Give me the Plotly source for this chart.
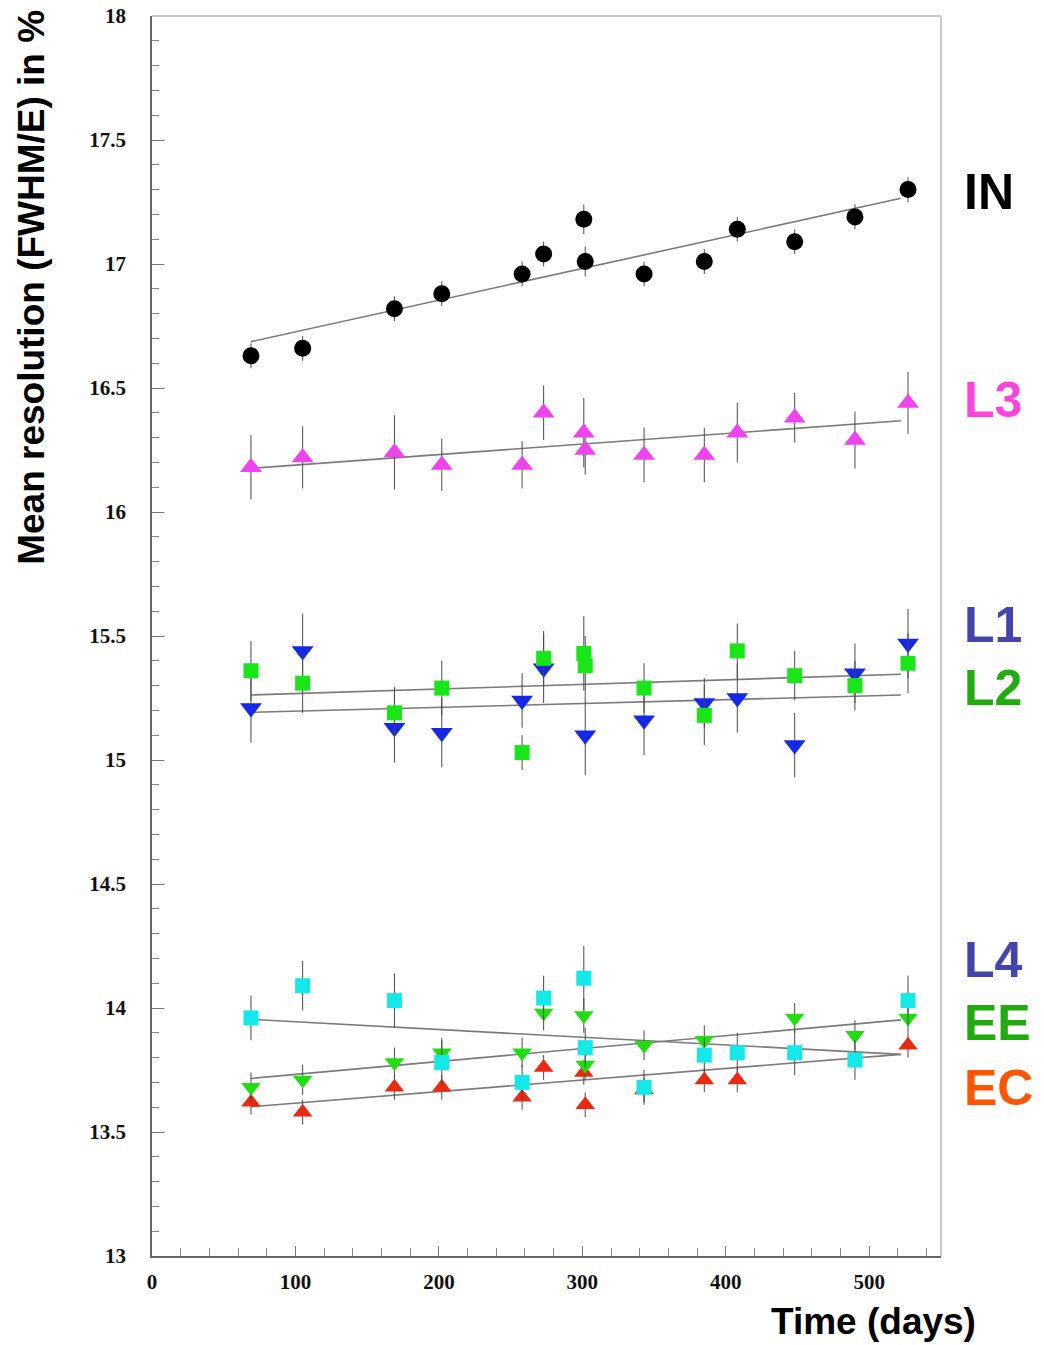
import plotly.graph_objects as go

# Measurement days (two runs close to day 300)
days = [69, 105, 169, 202, 258, 273, 301, 302, 343, 385, 408, 448, 490, 527]

# Mean resolution (FWHM/E, %) per detector region (None = no point shown)
res_IN = [16.63, 16.66, 16.82, 16.88, 16.96, 17.04, 17.18, 17.01, 16.96, 17.01, 17.14, 17.09, 17.19, 17.30]
err_IN = [0.05, 0.05, 0.05, 0.05, 0.05, 0.05, 0.06, 0.06, 0.05, 0.05, 0.05, 0.05, 0.05, 0.05]

res_L3 = [16.18, 16.22, 16.24, 16.19, 16.19, 16.40, 16.32, 16.25, 16.23, 16.23, 16.32, 16.38, 16.29, 16.44]
err_L3 = [0.13, 0.125, 0.15, 0.105, 0.095, 0.11, 0.14, 0.10, 0.11, 0.11, 0.12, 0.10, 0.115, 0.125]

res_L1 = [15.21, 15.44, 15.13, 15.11, 15.24, 15.37, None, 15.10, 15.16, 15.23, 15.25, 15.06, 15.35, 15.47]
err_L1 = [0.14, 0.15, 0.14, 0.14, 0.11, 0.14, 0.15, 0.16, 0.14, 0.10, 0.14, 0.13, 0.12, 0.14]

res_L2 = [15.36, 15.31, 15.19, 15.29, 15.03, 15.41, 15.43, 15.38, 15.29, 15.18, 15.44, 15.34, 15.30, 15.39]
err_L2 = [0.12, 0.12, 0.105, 0.11, 0.07, 0.11, 0.15, 0.12, 0.10, 0.12, 0.11, 0.10, 0.10, 0.12]

res_L4 = [13.96, 14.09, 14.03, 13.78, 13.70, 14.04, 14.12, 13.84, 13.68, 13.81, 13.82, 13.82, 13.79, 14.03]
err_L4 = [0.09, 0.10, 0.11, 0.09, 0.07, 0.09, 0.13, 0.08, 0.07, 0.07, 0.08, 0.09, 0.08, 0.10]

res_EE = [13.68, 13.71, 13.78, 13.82, 13.82, 13.98, 13.97, 13.77, 13.85, 13.87, None, 13.96, 13.89, 13.96]
err_EE = [0.06, 0.06, 0.06, 0.06, 0.06, 0.07, 0.07, 0.06, 0.06, 0.06, 0.06, 0.06, 0.06, 0.06]

res_EC = [13.62, 13.58, 13.68, 13.68, 13.64, 13.76, 13.74, 13.61, 13.67, 13.71, 13.71, None, None, 13.85]
err_EC = [0.05, 0.05, 0.05, 0.05, 0.05, 0.05, 0.05, 0.05, 0.05, 0.05, 0.05, 0.05, 0.05, 0.05]

# Linear fit lines (values at the start and end of the fit range)
fit_days = [69, 522]
fit_IN = [16.687, 17.265]
fit_L3 = [16.176, 16.368]
fit_L1 = [15.192, 15.262]
fit_L2 = [15.262, 15.346]
fit_L4 = [13.954, 13.813]
fit_EE = [13.716, 13.952]
fit_EC = [13.602, 13.813]

# Axis tick labels
x_ticks = [0, 100, 200, 300, 400, 500]
y_ticks = [13, 13.5, 14, 14.5, 15, 15.5, 16, 16.5, 17, 17.5, 18]
y_tick_labels = ["13", "13.5", "14", "14.5", "15", "15.5", "16", "16.5", "17", "17.5", "18"]

region_names = ["IN", "L3", "L1", "L2", "L4", "EE", "EC"]
label_colors = ["#000000", "#ff44dd", "#4444aa", "#22aa11", "#4444aa", "#22aa11", "#ff5500"]

fig = go.Figure()

# fit lines underneath the points
for fy in [fit_IN, fit_L3, fit_L1, fit_L2, fit_L4, fit_EE, fit_EC]:
    fig.add_trace(go.Scatter(x=fit_days, y=fy, mode="lines",
                             line=dict(color="#7a7a7a", width=1.6),
                             hoverinfo="skip", showlegend=False))

series = [
    (res_IN, err_IN, "circle", 17, "#000000"),
    (res_L3, err_L3, "triangle-up", 19, "#ee44ee"),
    (res_L1, err_L1, "triangle-down", 19, "#1428e6"),
    (res_L2, err_L2, "square", 15, "#18e618"),
    (res_EC, err_EC, "triangle-up", 17, "#e82a10"),
    (res_EE, err_EE, "triangle-down", 17, "#22dd11"),
    (res_L4, err_L4, "square", 15, "#14e8e8"),
]
for vals, errs, sym, sz, col in series:
    fig.add_trace(go.Scatter(
        x=days, y=vals, mode="markers",
        marker=dict(symbol=sym, size=sz, color=col, line=dict(width=0)),
        error_y=dict(type="data", array=errs, visible=True,
                     color="#4a4a4a", thickness=1, width=0),
        showlegend=False))

tick_font = dict(family="Liberation Serif", size=21, color="#111111", weight="bold")

fig.update_xaxes(
    range=[0, 550], tickvals=x_ticks,
    ticks="inside", ticklen=10, tickcolor="#777777", tickwidth=1,
    minor=dict(dtick=20, tick0=0, ticks="inside", ticklen=8, tickcolor="#888888"),
    showline=True, linecolor="#666666", linewidth=1.5,
    showgrid=False, zeroline=False, tickfont=tick_font, ticklabelstandoff=6,
    automargin=False,
)
fig.update_yaxes(
    range=[13, 18], tickvals=y_ticks, ticktext=y_tick_labels,
    ticks="inside", ticklen=12, tickcolor="#777777", tickwidth=1,
    minor=dict(dtick=0.1, tick0=13, ticks="inside", ticklen=7, tickcolor="#888888"),
    showline=True, linecolor="#666666", linewidth=1.5,
    showgrid=False, zeroline=False, tickfont=tick_font, ticklabelstandoff=20,
    automargin=False,
)

# light frame on the top and right sides
fig.add_shape(type="line", xref="paper", yref="paper", x0=0, x1=1, y0=1, y1=1,
              line=dict(color="#c8c8c8", width=2))
fig.add_shape(type="line", xref="paper", yref="paper", x0=1, x1=1, y0=0, y1=1,
              line=dict(color="#c8c8c8", width=2))

# region labels to the right of the frame
label_y = [17.29, 16.452, 15.544, 15.29, 14.194, 13.94, 13.677]
for name, col, ly in zip(region_names, label_colors, label_y):
    fig.add_annotation(text=name, xref="paper", yref="y", x=1.026, y=ly,
                       xanchor="left", yanchor="middle", showarrow=False,
                       font=dict(family="Liberation Sans", size=50, color=col, weight="bold"))

axis_title_font = dict(family="Liberation Sans", size=37, color="#000000", weight="bold")
fig.add_annotation(text="Mean resolution (FWHM/E) in %", xref="paper", yref="paper",
                   x=-0.153, y=0.781, textangle=-90, showarrow=False,
                   xanchor="center", yanchor="middle", font=axis_title_font)
fig.add_annotation(text="Time (days)", xref="paper", yref="paper",
                   x=0.914, y=-0.053, showarrow=False,
                   xanchor="center", yanchor="middle", font=axis_title_font)

fig.update_layout(
    width=1044, height=1345,
    margin=dict(l=152, r=103, t=16, b=89),
    paper_bgcolor="white", plot_bgcolor="white",
    showlegend=False,
)

fig.write_html("out.html")
